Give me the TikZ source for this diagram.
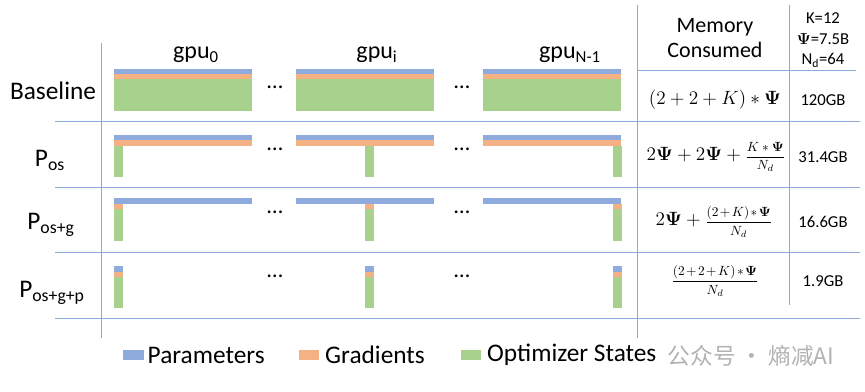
\documentclass[tikz,border=0pt]{standalone}
\usepackage{fontspec}
\setmainfont{Carlito}
\newfontfamily\cjkfont{Noto Sans CJK SC}
\usepackage{amsmath}
\usepackage{amssymb}
\usepackage{tikz}
\usetikzlibrary{calc, positioning}
\definecolor{paramblue}{HTML}{8FAADC}
\definecolor{gradorange}{HTML}{F4B183}
\definecolor{optgreen}{HTML}{A9D18E}
\definecolor{linecol}{HTML}{8EA9DB}
\newcommand{\bPsi}{\boldsymbol{\Psi}}
% fraction set at its own size, #2 is the space round + and *
\newcommand{\smallfrac}[4]{\text{\fontsize{#1}{#1}\selectfont\medmuskip=#2$\displaystyle\frac{#3}{#4}$}}
\tikzstyle{gridline}   = [linecol, line width=0.75pt]
\tikzstyle{rowname}    = [anchor=base, font=\fontsize{19}{22}\selectfont]
\tikzstyle{gpuname}    = [anchor=base, font=\fontsize{18}{22}\selectfont]
\tikzstyle{gpudots}    = [anchor=base, font=\fontsize{17}{20}\selectfont]
\tikzstyle{formula}    = [font=\fontsize{14}{17}\selectfont]
\tikzstyle{gbvalue}    = [font=\fontsize{12.5}{15}\selectfont]
\tikzstyle{swatch}     = [inner sep=0pt, minimum width=15.5pt, minimum height=7.5pt]
\tikzstyle{legendtext} = [anchor=west, inner sep=0pt, font=\fontsize{19}{22}\selectfont]

\begin{document}
\begin{tikzpicture}[x=0.75pt, y=-0.75pt]
  \fill[white] (0,0) rectangle (865,392);

  %table lines
  \draw[gridline] (101,43) -- (101,338);
  \draw[gridline] (637,5) -- (637,338);
  \draw[gridline] (789,5) -- (789,305);
  \draw[gridline] (637,71) -- (856,71);
  \foreach \y in {122,188,253,319}{
    \draw[gridline] (55,\y) -- (860,\y);
  }

  %put the gpu columns, \s is the x of the shard kept by that gpu
  \foreach \x/\s/\lx/\lbl [count=\xi] in {114/114/196/0, 296/365/377/i, 483/613/570/N-1}{
    \node[gpuname] (gpu\xi) at (\lx,59) {gpu$_\text{\lbl}$};
    % baseline
    \fill[paramblue]  (\x,69) rectangle ++(138,5);
    \fill[gradorange] (\x,74) rectangle ++(138,5);
    \fill[optgreen]   (\x,79) rectangle ++(138,32);
    % P_os
    \fill[paramblue]  (\x,135) rectangle ++(138,5);
    \fill[gradorange] (\x,140) rectangle ++(138,6);
    \fill[optgreen]   (\s,146) rectangle ++(9,31);
    % P_os+g
    \fill[paramblue]  (\x,198) rectangle ++(138,6);
    \fill[gradorange] (\s,204) rectangle ++(9,5);
    \fill[optgreen]   (\s,209) rectangle ++(9,32);
    % P_os+g+p
    \fill[paramblue]  (\s,266) rectangle ++(9,6);
    \fill[gradorange] (\s,272) rectangle ++(9,5);
    \fill[optgreen]   (\s,277) rectangle ++(9,31);
  }

  %dots between the gpus
  \foreach \y [count=\yi] in {87,149,212,276}{
    \node[gpudots] (dotsa\yi) at (275,\y+2) {…};
    \node[gpudots] (dotsb\yi) at (462,\y+2) {…};
  }

  %row names
  \node[rowname] (base)  at (53,100) {Baseline};
  \node[rowname] (pos)   at (50,167) {P$_\text{os}$};
  \node[rowname] (posg)  at (51,230) {P$_\text{os+g}$};
  \node[rowname] (posgp) at (52,298) {P$_\text{os+g+p}$};

  %memory columns
  \node[align=center, font=\fontsize{16.5}{19}\selectfont] (memhead) at (715,38) {Memory\\Consumed};
  \node[align=center, font=\fontsize{12.5}{15.5}\selectfont] (consts) at (823,40) {K=12\\$\bPsi$=7.5B\\N$_\text{d}$=64};

  \node[formula] (fbase) at (715,100) {$(2+2+K)*\bPsi$};
  \node[formula] (fos)   at (716,157) {$2\bPsi+2\bPsi+\smallfrac{10}{4mu}{K*\bPsi}{N_d}$};
  \node[formula] (fosg)  at (714,222) {$2\bPsi+\smallfrac{10}{2mu}{(2+K)*\bPsi}{N_d}$};
  \node[formula] (fosgp) at (715,281) {$\smallfrac{10}{2mu}{(2+2+K)*\bPsi}{N_d}$};

  \node[gbvalue] (vbase) at (823,100) {120GB};
  \node[gbvalue] (vos)   at (823,157) {31.4GB};
  \node[gbvalue] (vosg)  at (823,222) {16.6GB};
  \node[gbvalue] (vosgp) at (823,281) {1.9GB};

  %legend
  \node[swatch, fill=paramblue] (kpar) at (133.5,355) {};
  \node[legendtext, right=2.5pt of kpar] (lpar) {Parameters};
  \node[swatch, fill=gradorange] (kgrad) at (309,355) {};
  \node[legendtext, right=4pt of kgrad] (lgrad) {Gradients};
  \node[swatch, fill=optgreen] (kopt) at (471,355) {};
  \node[legendtext, right=4pt of kopt] (lopt) {Optimizer States};
  \node[anchor=west, text=black!30, font=\cjkfont\fontsize{17}{20}\selectfont] (mark) at (663,356) {公众号 · 熵减AI};
\end{tikzpicture}
\end{document}
